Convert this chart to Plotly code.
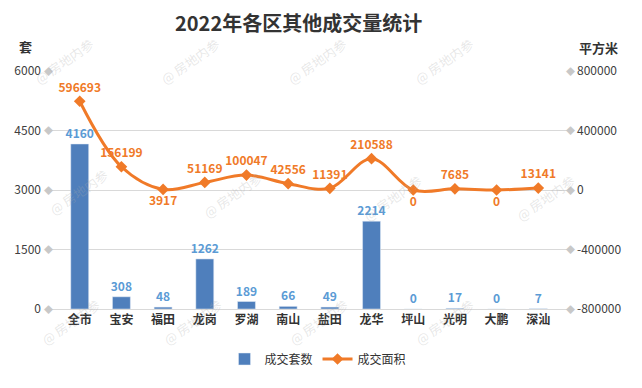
import plotly.graph_objects as go

categories = ["全市", "宝安", "福田", "龙岗", "罗湖", "南山", "盐田", "龙华", "坪山", "光明", "大鹏", "深汕"]
units = [4160, 308, 48, 1262, 189, 66, 49, 2214, 0, 17, 0, 7]
area = [596693, 156199, 3917, 51169, 100047, 42556, 11391, 210588, 0, 7685, 0, 13141]
left_ticks = [0, 1500, 3000, 4500, 6000]
right_ticks = [-800000, -400000, 0, 400000, 800000]
label_pos = ["top center", "top center", "bottom center", "top center", "top center", "top center",
             "top center", "top center", "bottom center", "top center", "bottom center", "top center"]

font = "Noto Sans CJK SC"
bar_color = "#4F7FBC"
line_color = "#F07A28"

# figure geometry (page has an 8px body offset)
W, H = 634, 380
ML, MR, MT, MB = 40, 72, 63, 79
PW, PH = W - ML - MR, H - MT - MB


def px(wx, wy):
    return (wx - 8 - ML) / PW, 1 - (wy - 8 - MT) / PH


fig = go.Figure()
fig.add_trace(go.Bar(
    x=categories, y=units, name="成交套数", marker_color=bar_color, width=0.43,
    text=["<b>%d</b>" % v for v in units], textposition="outside", constraintext="none",
    textfont=dict(color="#5B9BD5", size=12, family=font),
    cliponaxis=False, yaxis="y",
))
fig.add_trace(go.Scatter(
    x=categories, y=area, name="成交面积", mode="lines+markers+text",
    line=dict(color=line_color, width=3, shape="spline", smoothing=1.0),
    marker=dict(symbol="diamond", size=9, color=line_color),
    text=["<b>%d</b>" % v for v in area], textposition=label_pos,
    textfont=dict(color=line_color, size=12, family=font),
    cliponaxis=False, yaxis="y2",
))

tx, ty = px(298, 22)
ux, uy = px(25, 47)
sx, sy = px(598, 48)
annotations = [
    dict(text="<b>2022年各区其他成交量统计</b>", xref="paper", yref="paper", x=tx, y=ty,
         xanchor="center", yanchor="middle", showarrow=False,
         font=dict(size=20, color="#333333", family=font)),
    dict(text="<b>套</b>", xref="paper", yref="paper", x=ux, y=uy, xanchor="center",
         yanchor="middle", showarrow=False, font=dict(size=13, color="#333333", family=font)),
    dict(text="<b>平方米</b>", xref="paper", yref="paper", x=sx, y=sy, xanchor="center",
         yanchor="middle", showarrow=False, font=dict(size=13, color="#333333", family=font)),
]
for t in left_ticks:
    annotations.append(dict(text="◆", xref="paper", yref="y", x=0.0, y=t, showarrow=False,
                            xanchor="center", yanchor="middle", font=dict(size=9, color="#C8C8C8")))
for t in right_ticks:
    annotations.append(dict(text="◆", xref="paper", yref="y2", x=1.0, y=t, showarrow=False,
                            xanchor="center", yanchor="middle", font=dict(size=9, color="#C8C8C8")))
# watermarks
wm = [(64, 62), (190, 62), (317, 62), (444, 62),
      (78, 192), (232, 195), (392, 198), (545, 198),
      (70, 322), (192, 322), (318, 322), (444, 322)]
for wx, wy in wm:
    x, y = px(wx, wy)
    annotations.append(dict(text="@ 房地内参", xref="paper", yref="paper", x=x, y=y, showarrow=False,
                            xanchor="center", yanchor="middle",
                            textangle=-35, font=dict(size=13, color="rgba(170,170,170,0.28)", family=font)))

lx, ly = px(318, 359)
fig.update_layout(
    width=W, height=H,
    margin=dict(l=ML, r=MR, t=MT, b=MB, autoexpand=False),
    plot_bgcolor="white", paper_bgcolor="white",
    font=dict(family=font, size=12, color="#404040"),
    bargap=0.5,
    xaxis=dict(showgrid=False, showline=True, linecolor="#D9D9D9", ticks="", automargin=False,
               tickvals=categories, ticktext=["<b>%s</b>" % c for c in categories],
               tickfont=dict(size=12, color="#333333", family=font)),
    yaxis=dict(range=[0, 6000], tickvals=left_ticks, showgrid=True, gridcolor="#D9D9D9",
               zeroline=False, ticks="", ticklabelstandoff=6, automargin=False,
               tickfont=dict(size=12, color="#404040")),
    yaxis2=dict(range=[-800000, 800000], tickvals=right_ticks, ticktext=[str(t) for t in right_ticks],
                overlaying="y", side="right", automargin=False,
                showgrid=False, zeroline=False, ticks="", ticklabelstandoff=6,
                tickfont=dict(size=12, color="#404040")),
    legend=dict(orientation="h", x=lx, xanchor="center", y=ly, yanchor="middle",
                itemwidth=30, tracegroupgap=0,
                font=dict(size=12, color="#333333", family=font)),
    annotations=annotations,
    showlegend=True,
)
fig.write_html("out.html")
